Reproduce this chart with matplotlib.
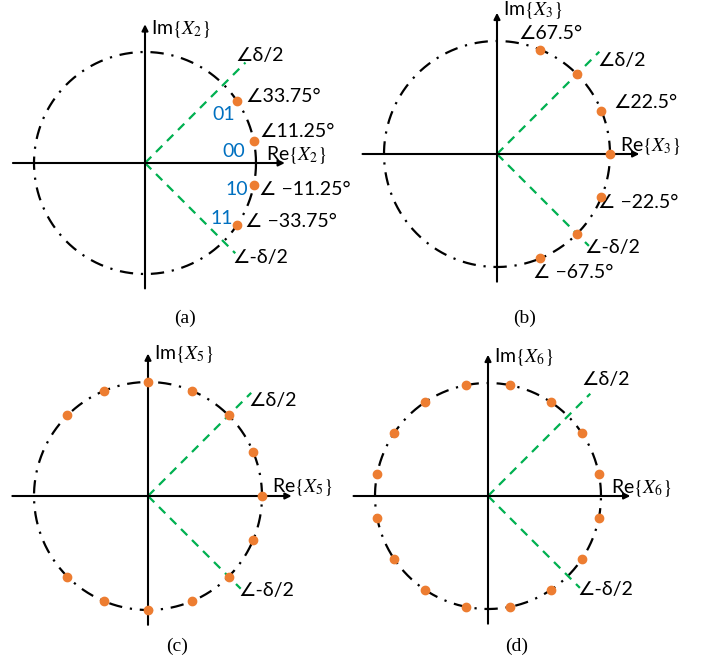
import numpy as np
import matplotlib.pyplot as plt

plt.rcParams.update({
    "font.family": ["Lato", "DejaVu Sans"],
    "mathtext.fontset": "stix",
})

W, H = 702, 662
ORANGE = "#ED7D31"
GREEN = "#00B050"
BLUE = "#0070C0"

# ── data ──────────────────────────────────────────────────────────────────────
half_delta = 45.0  # angle of the ±δ/2 boundary lines (deg)

angles_a = [33.75, 11.25, -11.25, -33.75]
bits_a = ["01", "00", "10", "11"]
labels_a = ["∠33.75°", "∠11.25°", "∠ −11.25°", "∠ −33.75°"]

angles_b = [67.5, 45, 22.5, 0, -22.5, -45, -67.5]
labels_b = ["∠67.5°", "∠22.5°", "∠ −22.5°", "∠ −67.5°"]

angles_c = [0, 22.5, 45, 67.5, 90, 112.5, 135,
            225, 247.5, 270, 292.5, 315, 337.5]

angles_d = [11.25, 33.75, 56.25, 78.75, 101.25, 123.75, 146.25, 168.75,
            191.25, 213.75, 236.25, 258.75, 281.25, 303.75, 326.25, 348.75]

# ── layout: panel centre and radius in pixels, Im label height ───────────────
panels = {
    "a": (145, 163, 111, 1.21),
    "b": (497, 154, 113, 1.27),
    "c": (148, 496, 114, 1.245),
    "d": (488, 496, 113, 1.23),
}
captions = {"a": (185, 318), "b": (525, 318), "c": (177, 646), "d": (517, 646)}

fig = plt.figure(figsize=(W / 100, H / 100), dpi=100)

FS = 14


def make_panel(key, idx):
    cx, cy, r, im_y = panels[key]
    s = 1.35
    ax = fig.add_axes([(cx - s * r) / W, (H - cy - s * r) / H, 2 * s * r / W, 2 * s * r / H])
    ax.set_xlim(-s, s)
    ax.set_ylim(-s, s)
    ax.axis("off")

    # dash-dot unit circle
    t = np.linspace(0, 2 * np.pi, 400)
    ax.plot(np.cos(t), np.sin(t), color="black", lw=1.6,
            linestyle=(0, (6, 3.5, 1, 3.5)))

    # coordinate axes with arrows
    ax.annotate("", xy=(1.26, 0), xytext=(-1.19, 0),
                arrowprops=dict(arrowstyle="-|>", color="black", lw=1.5,
                                mutation_scale=9, shrinkA=0, shrinkB=0))
    ax.annotate("", xy=(0, 1.25), xytext=(0, -1.13),
                arrowprops=dict(arrowstyle="-|>", color="black", lw=1.5,
                                mutation_scale=9, shrinkA=0, shrinkB=0))
    ax.text(0.05, im_y, r"Im$\{X_%d\}$" % idx, fontsize=FS, ha="left", va="center")
    ax.text(1.09, 0.075, r"Re$\{X_%d\}$" % idx, fontsize=FS, ha="left", va="center")

    # ±δ/2 boundaries
    a = np.deg2rad(half_delta)
    ax.plot([0, 1.28 * np.cos(a)], [0, 1.28 * np.sin(a)], color=GREEN, lw=1.6,
            linestyle=(0, (4, 3)))
    ax.plot([0, 1.15 * np.cos(a)], [0, -1.15 * np.sin(a)], color=GREEN, lw=1.6,
            linestyle=(0, (4, 3)))

    fig.text(captions[key][0] / W, 1 - captions[key][1] / H, "(%s)" % key,
             fontsize=14, family="Liberation Serif", ha="center", va="center")
    return ax


def draw_points(ax, angles):
    th = np.deg2rad(angles)
    ax.plot(np.cos(th), np.sin(th), "o", color=ORANGE, ms=6, zorder=5)


# (a)
ax = make_panel("a", 2)
draw_points(ax, angles_a)
ax.text(0.81, 0.97, "∠δ/2", fontsize=FS, va="center")
ax.text(0.79, -0.85, "∠-δ/2", fontsize=FS, va="center")
for (x, y), txt in zip([(0.90, 0.60), (1.03, 0.28), (1.03, -0.24), (0.90, -0.53)], labels_a):
    ax.text(x, y, txt, fontsize=FS, va="center")
for (x, y), txt in zip([(0.81, 0.44), (0.90, 0.10), (0.93, -0.24), (0.79, -0.50)], bits_a):
    ax.text(x, y, txt, fontsize=FS, color=BLUE, ha="right", va="center")

# (b)
ax = make_panel("b", 3)
draw_points(ax, angles_b)
ax.text(0.89, 0.83, "∠δ/2", fontsize=FS, va="center")
ax.text(0.77, -0.83, "∠-δ/2", fontsize=FS, va="center")
for (x, y), txt in zip([(0.19, 1.07), (1.03, 0.46), (0.89, -0.43), (0.32, -1.05)], labels_b):
    ax.text(x, y, txt, fontsize=FS, va="center")

# (c)
ax = make_panel("c", 5)
draw_points(ax, angles_c)
ax.text(0.88, 0.84, "∠δ/2", fontsize=FS, va="center")
ax.text(0.79, -0.83, "∠-δ/2", fontsize=FS, va="center")

# (d)
ax = make_panel("d", 6)
draw_points(ax, angles_d)
ax.text(0.83, 1.03, "∠δ/2", fontsize=FS, va="center")
ax.text(0.79, -0.83, "∠-δ/2", fontsize=FS, va="center")

fig.savefig("out.png", dpi=100)
